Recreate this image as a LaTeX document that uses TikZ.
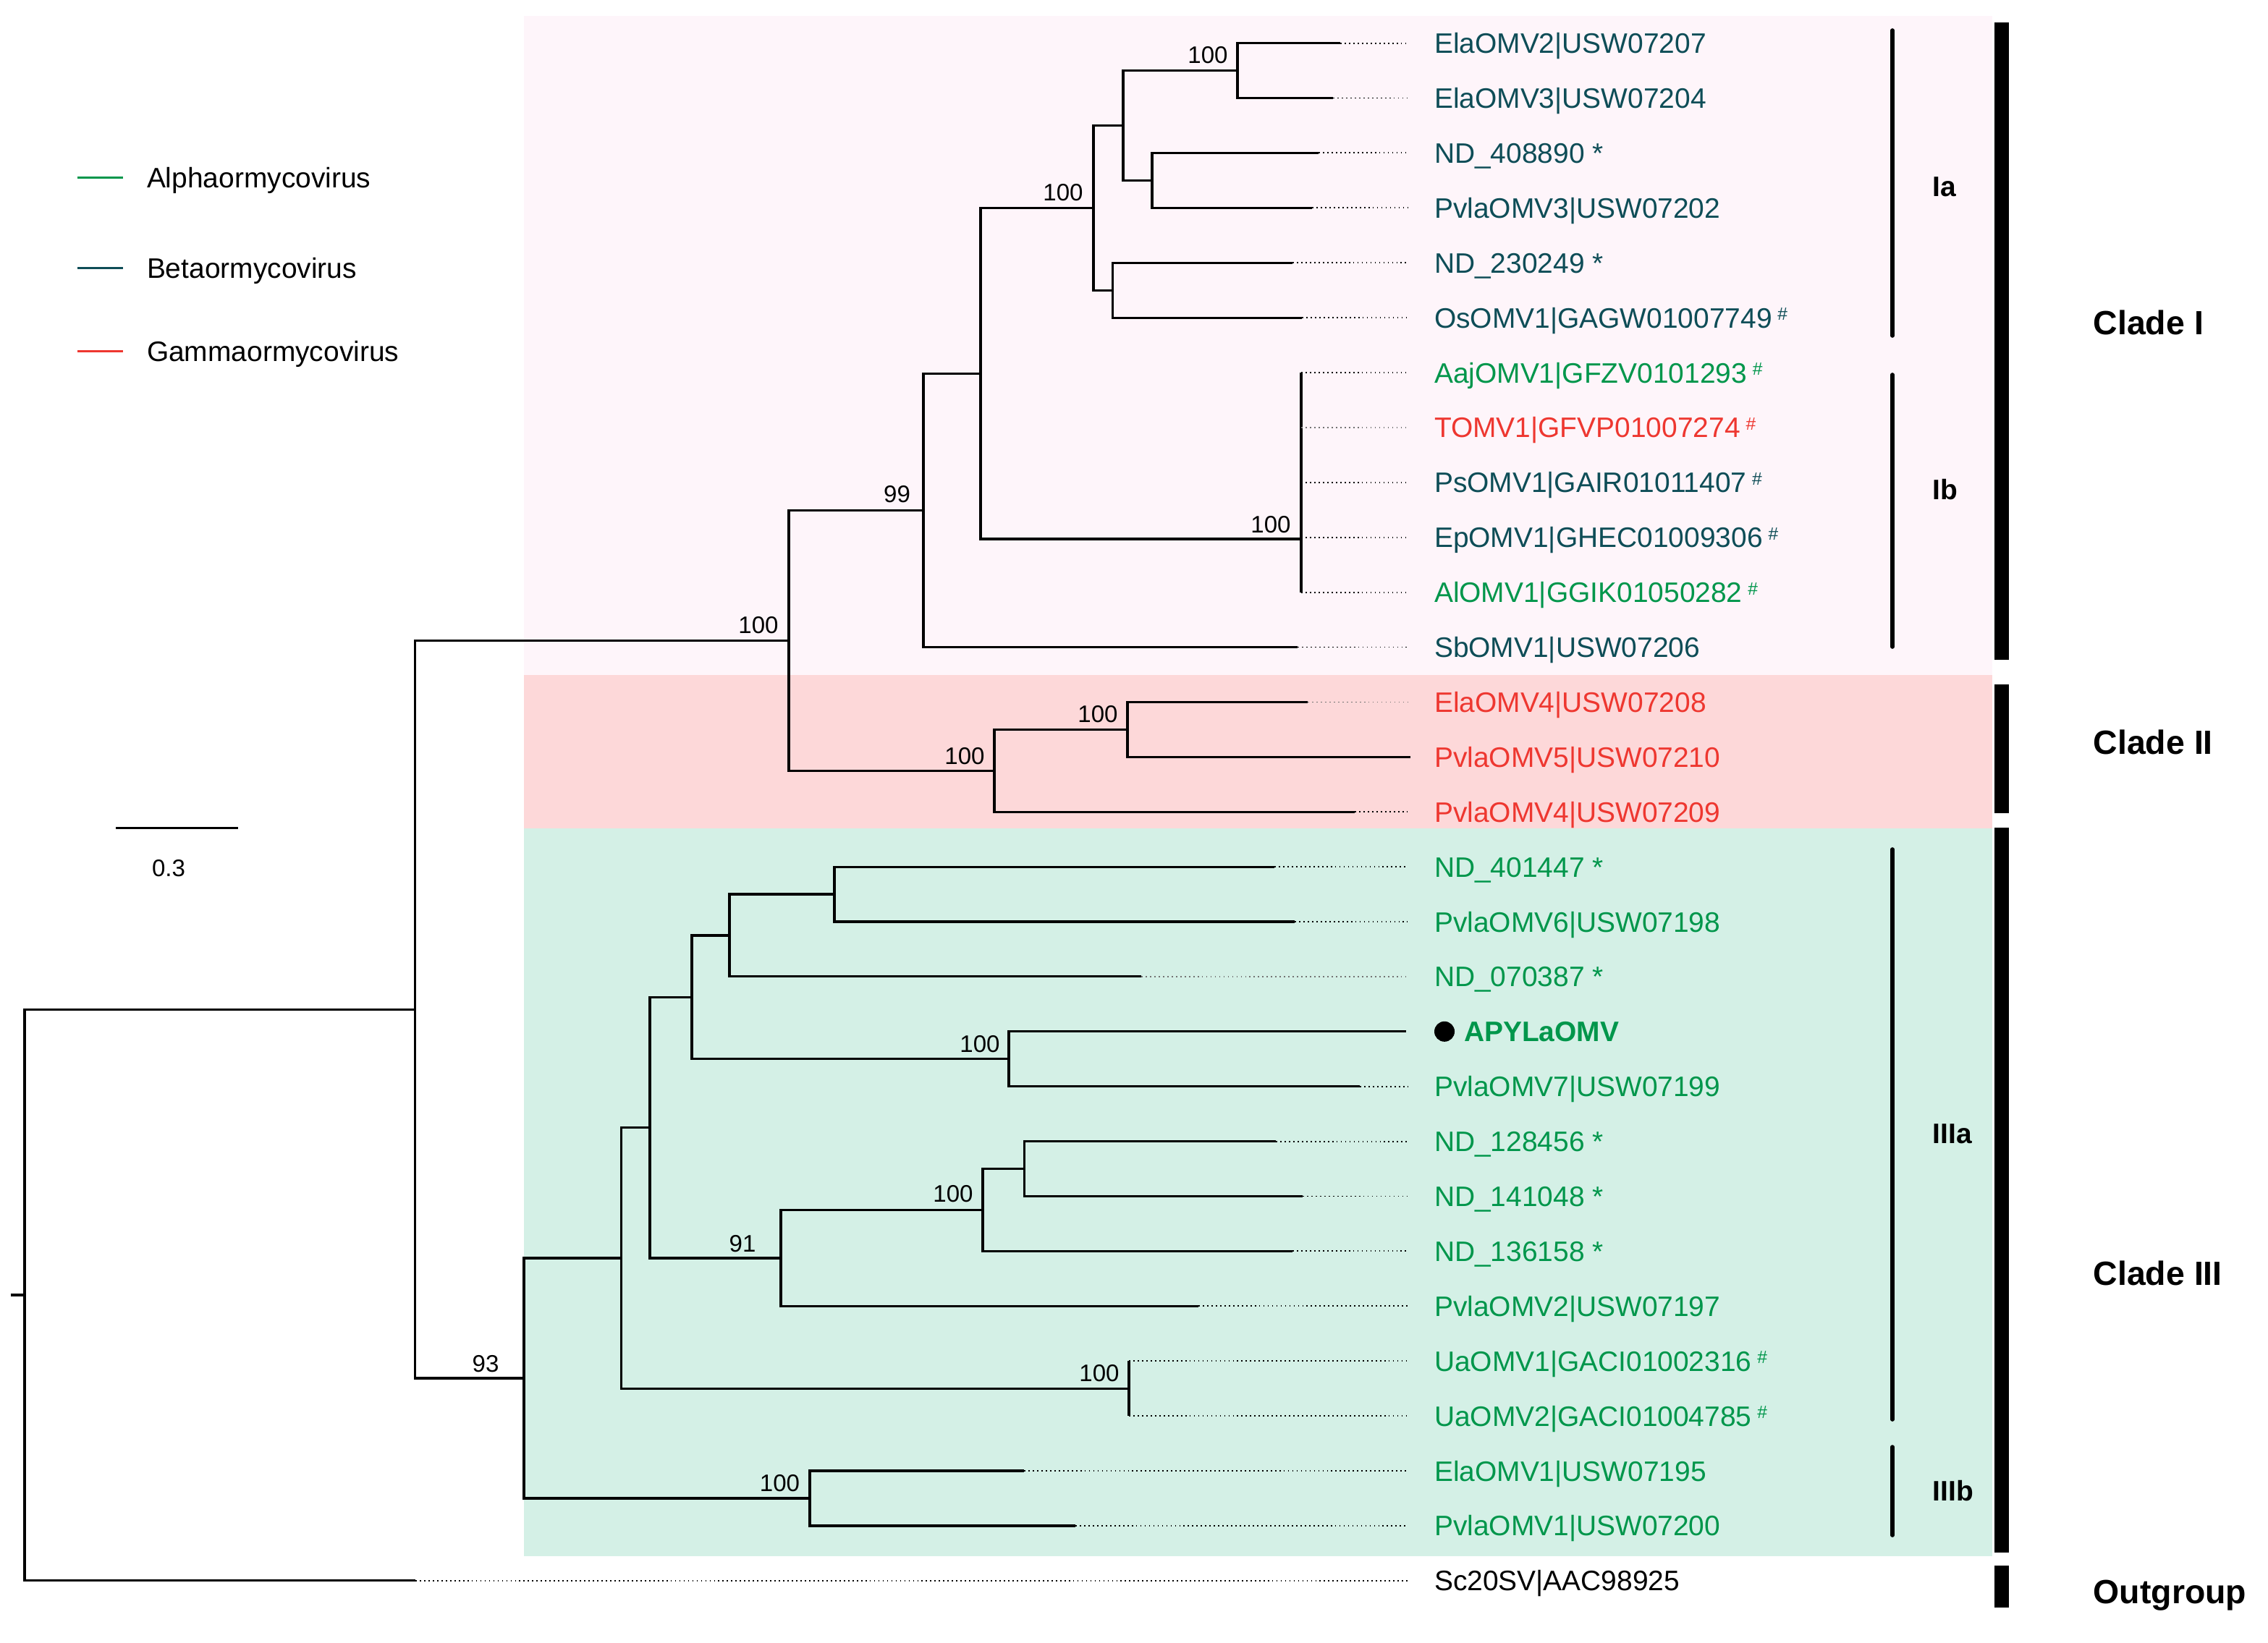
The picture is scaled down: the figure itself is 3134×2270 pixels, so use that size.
\documentclass[tikz,border=0pt]{standalone}
\usepackage{fontspec}
\setmainfont{Liberation Sans}
\definecolor{cgreen}{RGB}{0,150,75}
\definecolor{cteal}{RGB}{14,77,87}
\definecolor{cred}{RGB}{238,55,48}
\definecolor{bgpink}{RGB}{254,245,250}
\definecolor{bgred}{RGB}{253,216,217}
\definecolor{bggreen}{RGB}{212,240,230}
\newcommand\hsh{\hspace{0.2em}\raisebox{0.27em}{\fontsize{7}{7}\selectfont\#}}
\begin{document}
\begin{tikzpicture}[x=0.01cm,y=-0.01cm,
 br/.style={line width=0.9pt},
 dotl/.style={line width=0.55pt, dash pattern=on 0.5pt off 1.2pt},
 dotlight/.style={dotl, line width=0.45pt, black!55},
 tip/.style={anchor=base west, inner sep=0, outer sep=0, yshift=-0.14cm, font=\fontsize{11.07}{13}\selectfont},
 boot/.style={inner sep=0, font=\fontsize{9.4}{11}\selectfont},
 clade/.style={anchor=base west, inner sep=0, yshift=-0.166cm, font=\fontsize{13.2}{15}\selectfont\bfseries},
 subcl/.style={anchor=base west, inner sep=0, yshift=-0.14cm, font=\fontsize{11.07}{13}\selectfont\bfseries},
 cbar/.style={fill=black},
 sbar/.style={line width=1.6pt, line cap=round},
]
\useasboundingbox (0,0) rectangle (3134,2270);
% backgrounds
\fill[bgpink] (724,22) rectangle (2753,933);
\fill[bgred] (724,933) rectangle (2753,1144.5);
\fill[bggreen] (724,1144.5) rectangle (2753,2151);

% reference x positions
\coordinate (dx) at (1945,0);
\coordinate (lx) at (1982,0);

% tips
\coordinate (t0) at (1852,59.6);
\coordinate (t1) at (1842,135.5);
\coordinate (t2) at (1822,211.4);
\coordinate (t3) at (1813,287.3);
\coordinate (t4) at (1786,363.2);
\coordinate (t5) at (1799,439.1);
\coordinate (t6) at (1798,515.0);
\coordinate (t7) at (1798,590.9);
\coordinate (t8) at (1798,666.8);
\coordinate (t9) at (1798,742.7);
\coordinate (t10) at (1798,818.6);
\coordinate (t11) at (1793,894.5);
\coordinate (t12) at (1807,970.4);
\coordinate (t13) at (1949,1046.3);
\coordinate (t14) at (1872,1122.2);
\coordinate (t15) at (1761,1198.1);
\coordinate (t16) at (1789,1274.0);
\coordinate (t17) at (1577,1349.9);
\coordinate (t18) at (1943,1425.8);
\coordinate (t19) at (1879,1501.7);
\coordinate (t20) at (1763,1577.6);
\coordinate (t21) at (1800,1653.5);
\coordinate (t22) at (1786,1729.4);
\coordinate (t23) at (1656,1805.3);
\coordinate (t24) at (1560,1881.2);
\coordinate (t25) at (1560,1957.1);
\coordinate (t26) at (1415,2033.0);
\coordinate (t27) at (1486,2108.9);
\coordinate (t28) at (574,2184.8);

% internal nodes
\coordinate (nA) at (1710,97.55);
\coordinate (nB) at (1592,249.35);
\coordinate (nC) at (1552,173.45);
\coordinate (nD) at (1537.6,401.15);
\coordinate (nE) at (1511,287.3);
\coordinate (nIb) at (1798,745);
\coordinate (nF) at (1355,516.15);
\coordinate (nG) at (1276,705.3);
\coordinate (nI) at (1558,1008.35);
\coordinate (nH) at (1374,1065.3);
\coordinate (nJ) at (1090,885.3);
\coordinate (nK) at (1153,1236.05);
\coordinate (nL) at (1008,1292.98);
\coordinate (nM) at (1394,1463.75);
\coordinate (nN) at (956,1378.4);
\coordinate (nO) at (1415.5,1615.55);
\coordinate (nP) at (1358,1672.5);
\coordinate (nQ) at (1079,1738.9);
\coordinate (nR) at (898,1558.6);
\coordinate (nU) at (1560,1919.15);
\coordinate (nS) at (858.7,1738.9);
\coordinate (nV) at (1119,2070.95);
\coordinate (nT) at (724,1904.9);
\coordinate (nW) at (573.6,1395.1);
\coordinate (root) at (34,1790);
\coordinate (stub) at (14.5,1790);

% branches
\foreach \p/\c in {nA/t0,nA/t1,nB/t2,nB/t3,nC/nA,nC/nB,nD/t4,nD/t5,nE/nC,nE/nD,
  nIb/t6,nIb/t7,nIb/t8,nIb/t9,nIb/t10,nF/nE,nF/nIb,nG/nF,nG/t11,
  nI/t12,nI/t13,nH/nI,nH/t14,nJ/nG,nJ/nH,
  nK/t15,nK/t16,nL/nK,nL/t17,nM/t18,nM/t19,nN/nL,nN/nM,
  nO/t20,nO/t21,nP/nO,nP/t22,nQ/nP,nQ/t23,nR/nN,nR/nQ,
  nU/t24,nU/t25,nS/nR,nS/nU,nV/t26,nV/t27,nT/nS,nT/nV,
  nW/nJ,nW/nT,root/nW,root/t28}
  \draw[br] (\p) |- (\c);
\draw[br] (stub) -- (root);

% dotted leaders
\foreach \i in {0,1,2,3,4,5,6,8,9,10,11,14,15,16,19,20,21,22,23,24,25,26,27,28}
  \draw[dotl] (t\i) -- (t\i -| dx);
\foreach \i in {7,12,17}
  \draw[dotlight] (t\i) -- (t\i -| dx);

% support values
\node[boot] (bA) at ([shift={(-41,-21)}]nA) {100};
\node[boot] (bE) at ([shift={(-42,-21)}]nE) {100};
\node[boot] (bG) at ([shift={(-36.5,-22)}]nG) {99};
\node[boot] (bIb) at ([shift={(-42,-20)}]nIb) {100};
\node[boot] (bJ) at ([shift={(-42,-21)}]nJ) {100};
\node[boot] (bI) at ([shift={(-41,-21)}]nI) {100};
\node[boot] (bH) at ([shift={(-41,-20)}]nH) {100};
\node[boot] (bM) at ([shift={(-40,-21)}]nM) {100};
\node[boot] (bP) at ([shift={(-41,-22)}]nP) {100};
\node[boot] (bQ) at ([shift={(-53,-20)}]nQ) {91};
\node[boot] (bU) at ([shift={(-41,-21)}]nU) {100};
\node[boot] (bT) at ([shift={(-53,-20)}]nT) {93};
\node[boot] (bV) at ([shift={(-41.5,-20.5)}]nV) {100};

% tip labels
\node[tip,text=cteal] (lab0) at (t0 -| lx) {ElaOMV2|USW07207};
\node[tip,text=cteal] (lab1) at (t1 -| lx) {ElaOMV3|USW07204};
\node[tip,text=cteal] (lab2) at (t2 -| lx) {ND\_408890 *};
\node[tip,text=cteal] (lab3) at (t3 -| lx) {PvlaOMV3|USW07202};
\node[tip,text=cteal] (lab4) at (t4 -| lx) {ND\_230249 *};
\node[tip,text=cteal] (lab5) at (t5 -| lx) {OsOMV1|GAGW01007749\hsh};
\node[tip,text=cgreen] (lab6) at (t6 -| lx) {AajOMV1|GFZV0101293\hsh};
\node[tip,text=cred] (lab7) at (t7 -| lx) {TOMV1|GFVP01007274\hsh};
\node[tip,text=cteal] (lab8) at (t8 -| lx) {PsOMV1|GAIR01011407\hsh};
\node[tip,text=cteal] (lab9) at (t9 -| lx) {EpOMV1|GHEC01009306\hsh};
\node[tip,text=cgreen] (lab10) at (t10 -| lx) {AlOMV1|GGIK01050282\hsh};
\node[tip,text=cteal] (lab11) at (t11 -| lx) {SbOMV1|USW07206};
\node[tip,text=cred] (lab12) at (t12 -| lx) {ElaOMV4|USW07208};
\node[tip,text=cred] (lab13) at (t13 -| lx) {PvlaOMV5|USW07210};
\node[tip,text=cred] (lab14) at (t14 -| lx) {PvlaOMV4|USW07209};
\node[tip,text=cgreen] (lab15) at (t15 -| lx) {ND\_401447 *};
\node[tip,text=cgreen] (lab16) at (t16 -| lx) {PvlaOMV6|USW07198};
\node[tip,text=cgreen] (lab17) at (t17 -| lx) {ND\_070387 *};
\node[circle,fill=black,inner sep=0,minimum size=0.28cm] (dot18) at (1996,1425.8) {};
\node[tip,text=cgreen,font=\fontsize{11.07}{13}\selectfont\bfseries] (lab18) at (2023,1425.8) {APYLaOMV};
\node[tip,text=cgreen] (lab19) at (t19 -| lx) {PvlaOMV7|USW07199};
\node[tip,text=cgreen] (lab20) at (t20 -| lx) {ND\_128456 *};
\node[tip,text=cgreen] (lab21) at (t21 -| lx) {ND\_141048 *};
\node[tip,text=cgreen] (lab22) at (t22 -| lx) {ND\_136158 *};
\node[tip,text=cgreen] (lab23) at (t23 -| lx) {PvlaOMV2|USW07197};
\node[tip,text=cgreen] (lab24) at (t24 -| lx) {UaOMV1|GACI01002316\hsh};
\node[tip,text=cgreen] (lab25) at (t25 -| lx) {UaOMV2|GACI01004785\hsh};
\node[tip,text=cgreen] (lab26) at (t26 -| lx) {ElaOMV1|USW07195};
\node[tip,text=cgreen] (lab27) at (t27 -| lx) {PvlaOMV1|USW07200};
\node[tip,text=black] (lab28) at (t28 -| lx) {Sc20SV|AAC98925};

% subclade bars and labels
\draw[sbar] (2615,42) -- (2615,464);
\draw[sbar] (2615,518) -- (2615,894);
\draw[sbar] (2615,1174) -- (2615,1962);
\draw[sbar] (2615,2000) -- (2615,2122);
\node[subcl] (sIa) at (2670,257) {Ia};
\node[subcl] (sIb) at (2670,676) {Ib};
\node[subcl] (sIIIa) at (2670,1566) {IIIa};
\node[subcl] (sIIIb) at (2670,2060) {IIIb};

% clade bars and labels
\fill[cbar] (2756,31) rectangle (2776,912);
\fill[cbar] (2756,946) rectangle (2776,1124);
\fill[cbar] (2756,1144) rectangle (2776,2146);
\fill[cbar] (2756,2164) rectangle (2776,2222);
\node[clade] (cI) at (2892,446) {Clade I};
\node[clade] (cII) at (2892,1026) {Clade II};
\node[clade] (cIII) at (2892,1760) {Clade III};
\node[clade] (cOut) at (2892,2200) {Outgroup};

% legend
\draw[line width=0.8pt,cgreen] (107,245.7) -- (170,245.7);
\draw[line width=0.8pt,cteal] (107,370.8) -- (170,370.8);
\draw[line width=0.8pt,cred] (107,485.7) -- (170,485.7);
\node[tip] (legA) at (203,245.7) {Alphaormycovirus};
\node[tip] (legB) at (203,370.8) {Betaormycovirus};
\node[tip] (legG) at (203,485.7) {Gammaormycovirus};

% scale bar
\draw[br] (160,1144.5) -- (329,1144.5);
\node[boot] (scl) at (233,1200) {0.3};
\end{tikzpicture}
\end{document}
